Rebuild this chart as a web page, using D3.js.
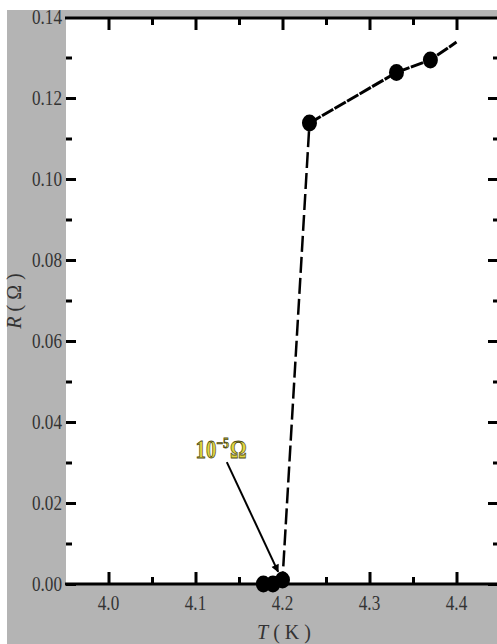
<!DOCTYPE html>
<html>
<head>
<meta charset="utf-8">
<script src="https://cdn.jsdelivr.net/npm/d3@7/dist/d3.min.js"></script>
<style>
html,body{margin:0;padding:0;background:#fff;}
svg{display:block;}
</style>
</head>
<body>
<svg id="chart" width="497" height="644"></svg>
<script>
// ---- data ----
const temperature = [4.178, 4.189, 4.200, 4.231, 4.331, 4.370];
const resistance  = [0.000, 0.000, 0.001, 0.1138, 0.1263, 0.1294];
const lineEndT = 4.400;
const lineEndR = 0.1338;
const xMajorTicks = [4.0, 4.1, 4.2, 4.3, 4.4];
const xMinorTicks = [4.05, 4.15, 4.25, 4.35];
const yMajorTicks = [0.00, 0.02, 0.04, 0.06, 0.08, 0.10, 0.12, 0.14];
const yMinorTicks = [0.01, 0.03, 0.05, 0.07, 0.09, 0.11, 0.13];
const annotText = "10";
const annotSup = "−5";
const annotUnit = "Ω";
const annotLabelPos = [4.100, 0.0311];
const annotArrowFrom = [4.136, 0.0301];
const annotArrowTo = [4.195, 0.0030];

const svg = d3.select("#chart");
const L = 65, R = 500, T = 17, B = 584;
const x = d3.scaleLinear().domain([3.95, 4.45]).range([L, R]);
const y = d3.scaleLinear().domain([0, 0.14]).range([B, T]);

// background
svg.append("rect").attr("x", 7).attr("y", 10).attr("width", 490).attr("height", 634).attr("fill", "#b4b4b4");
svg.append("rect").attr("x", L + 1).attr("y", T).attr("width", R - L).attr("height", B - T).attr("fill", "#fff");

const pts = temperature.map((t, i) => ({t, r: resistance[i]}));

// upper branch line
const upper = pts.filter(d => d.t >= 4.23).concat([{t: lineEndT, r: lineEndR}]);
const line = d3.line().x(d => x(d.t)).y(d => y(d.r));
svg.append("path").datum(upper).attr("d", line)
  .attr("fill", "none").attr("stroke", "#000").attr("stroke-width", 3)
  .attr("stroke-dasharray", "13,1.5");

// transition line
const trans = [pts[3], pts[2]];
svg.append("path").datum(trans).attr("d", line)
  .attr("fill", "none").attr("stroke", "#000").attr("stroke-width", 2.5)
  .attr("stroke-dasharray", "16,5").attr("stroke-dashoffset", -8);

// low branch line
svg.append("path").datum(pts.slice(0, 3)).attr("d", line)
  .attr("fill", "none").attr("stroke", "#000").attr("stroke-width", 3);

// axes
function axisTicks(g, gen, vals, size) {
  g.call(gen.tickValues(vals).tickSize(size).tickFormat(""));
  g.select(".domain").remove();
  g.selectAll(".tick line").attr("stroke", "#000").attr("stroke-width", 3);
}
const gb = svg.append("g").attr("transform", `translate(0,${B})`);
axisTicks(gb, d3.axisBottom(x), xMajorTicks, -12);
axisTicks(gb.append("g"), d3.axisBottom(x), xMinorTicks, -7);
const gt = svg.append("g").attr("transform", `translate(0,${T + 1})`);
axisTicks(gt, d3.axisTop(x), xMajorTicks, -12);
axisTicks(gt.append("g"), d3.axisTop(x), xMinorTicks, -7);
const gl = svg.append("g").attr("transform", `translate(${L + 1},0)`);
axisTicks(gl, d3.axisLeft(y), yMajorTicks.slice(0, -1), -10);
axisTicks(gl.append("g"), d3.axisLeft(y), yMinorTicks, -6);
const gr = svg.append("g").attr("transform", `translate(${R},0)`);
axisTicks(gr, d3.axisRight(y), yMajorTicks.slice(0, -1), -12);
axisTicks(gr.append("g"), d3.axisRight(y), yMinorTicks, -7);

// axis lines
svg.append("line").attr("x1", L).attr("x2", R).attr("y1", B).attr("y2", B).attr("stroke", "#000").attr("stroke-width", 3);
svg.append("line").attr("x1", L).attr("x2", R).attr("y1", T + 1).attr("y2", T + 1).attr("stroke", "#000").attr("stroke-width", 3);

// tick labels
const lblFont = "'Liberation Serif','Times New Roman',serif";
xMajorTicks.forEach(v => {
  svg.append("text").attr("transform", `translate(${x(v)},610) scale(0.78,1)`)
    .attr("text-anchor", "middle").attr("font-family", lblFont).attr("font-size", 22)
    .attr("fill", "#333").text(d3.format(".1f")(v));
});
yMajorTicks.forEach(v => {
  svg.append("text").attr("transform", `translate(62,${y(v) + 7}) scale(0.78,1)`)
    .attr("text-anchor", "end").attr("font-family", lblFont).attr("font-size", 22)
    .attr("fill", "#333").text(d3.format(".2f")(v));
});

// axis titles
const xt = svg.append("text").attr("transform", "translate(284,639)")
  .attr("text-anchor", "middle").attr("font-family", lblFont).attr("font-size", 20).attr("fill", "#333");
xt.append("tspan").attr("font-style", "italic").text("T");
xt.append("tspan").text(" ( K )");
const yt = svg.append("text").attr("transform", "translate(21,301) rotate(-90)")
  .attr("text-anchor", "middle").attr("font-family", lblFont).attr("font-size", 20).attr("fill", "#333");
yt.append("tspan").attr("font-style", "italic").text("R");
yt.append("tspan").text(" ( Ω )");

// annotation
svg.append("defs").append("marker").attr("id", "arr")
  .attr("viewBox", "0 0 10 10").attr("refX", 9).attr("refY", 5)
  .attr("markerWidth", 5).attr("markerHeight", 4).attr("orient", "auto")
  .append("path").attr("d", "M0,0L10,5L0,10Z").attr("fill", "#000");
svg.append("line")
  .attr("x1", x(annotArrowFrom[0])).attr("y1", y(annotArrowFrom[1]))
  .attr("x2", x(annotArrowTo[0])).attr("y2", y(annotArrowTo[1]))
  .attr("stroke", "#000").attr("stroke-width", 2).attr("marker-end", "url(#arr)");
const at = svg.append("text")
  .attr("transform", `translate(${x(annotLabelPos[0])},${y(annotLabelPos[1])}) scale(0.8,1)`)
  .attr("font-family", lblFont).attr("font-size", 26).attr("fill", "#e0d640")
  .attr("stroke", "#4e4a14").attr("stroke-width", 0.8).attr("font-weight", "bold");
at.append("tspan").text(annotText);
at.append("tspan").attr("dy", -10).attr("font-size", 15).text(annotSup);
at.append("tspan").attr("dy", 10).attr("dx", 1).text(annotUnit);

// markers
svg.append("g").selectAll("ellipse").data(pts).join("ellipse")
  .attr("cx", d => x(d.t)).attr("cy", d => y(d.r))
  .attr("rx", 7.5).attr("ry", 8.5).attr("fill", "#000");
</script>
</body>
</html>
